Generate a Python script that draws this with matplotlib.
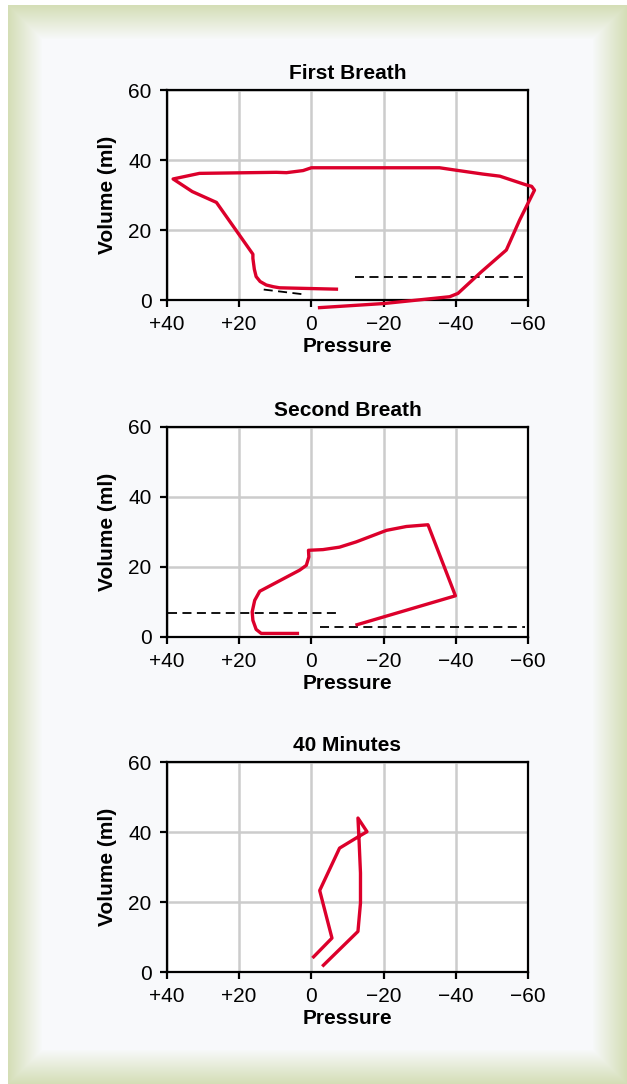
import numpy as np
import matplotlib.pyplot as plt

plt.rcParams['font.family'] = ['Liberation Sans', 'DejaVu Sans']

# tick values / labels
x_ticks = [40, 20, 0, -20, -40, -60]
x_labels = ['+40', '+20', '0', '\u221220', '\u221240', '\u221260']
y_ticks = [0, 20, 40, 60]
titles = ['First Breath', 'Second Breath', '40 Minutes']

# First breath loop (pressure, volume)
first_p = [-1.8, -20.0, -38.3, -40.6, -47.0, -54.0, -57.7, -61.8, -61.0, -59.5, -52.2,
           -47.5, -40.1, -35.5, -19.8, 0.0, 2.3, 6.9, 9.7, 31.0, 38.3, 33.0, 26.3,
           16.2, 16.2, 15.8, 15.3, 14.2, 12.5, 10.5, 8.8, -7.4]
first_v = [-2.2, -1.0, 0.95, 1.9, 8.0, 14.3, 22.9, 31.4, 32.5, 32.9, 35.4,
           36.0, 37.1, 37.8, 37.8, 37.8, 37.0, 36.4, 36.5, 36.2, 34.6, 31.0, 27.9,
           13.1, 11.9, 8.8, 6.7, 5.3, 4.3, 3.8, 3.5, 3.1]
first_dash1_p = [13.2, 1.9]
first_dash1_v = [3.0, 1.6]
first_dash2_p = [-12.0, -59.5]
first_dash2_v = [6.5, 6.5]

# Second breath loop
second_p = [3.4, 13.9, 15.3, 16.2, 16.4, 15.7, 14.3, 3.3, 1.4, 0.7, 0.8, -3.2,
            -7.8, -12.4, -20.8, -26.3, -32.3, -39.9, -12.2]
second_v = [0.95, 0.95, 2.1, 4.7, 7.1, 10.4, 13.0, 19.0, 20.4, 22.8, 24.7, 24.9,
            25.6, 27.1, 30.4, 31.5, 32.0, 11.7, 3.3]
second_dash1_p = [39.7, -7.8]
second_dash1_v = [6.7, 6.7]
second_dash2_p = [-2.5, -59.1]
second_dash2_v = [2.85, 2.85]

# 40 minutes loop
late_p = [-0.3, -5.7, -2.3, -7.8, -12.9, -15.4, -12.9, -13.2, -13.6, -13.6, -12.9, -3.0]
late_v = [4.0, 9.7, 23.3, 35.4, 38.6, 40.1, 44.0, 37.8, 28.3, 19.7, 11.6, 1.6]

red = '#dc002b'
W, H = 627, 1084
fig = plt.figure(figsize=(W / 100, H / 100), dpi=100)

# framed background with soft green border
green = np.array([212, 222, 182]) / 255.0
white = np.array([248, 249, 251]) / 255.0
xx, yy = np.meshgrid(np.arange(W), np.arange(H))
d = np.minimum.reduce([xx - 8, yy - 5, W - 1 - xx, H - 1 - yy]).astype(float)
t = np.clip(d / 34.0, 0, 1)[..., None]
img = green * (1 - t) + white * t
outside = (xx < 8) | (yy < 5)
img[outside] = [1, 1, 1]
bg = fig.add_axes([0, 0, 1, 1])
bg.imshow(img, aspect='auto', interpolation='bilinear')
bg.axis('off')

bottoms = [0.7232, 0.4126, 0.1033]
left, width, height = 0.2663, 0.5758, 0.1937

series = [
    (first_p, first_v, [(first_dash1_p, first_dash1_v), (first_dash2_p, first_dash2_v)]),
    (second_p, second_v, [(second_dash1_p, second_dash1_v), (second_dash2_p, second_dash2_v)]),
    (late_p, late_v, []),
]

for i, (p, v, dashes) in enumerate(series):
    ax = fig.add_axes([left, bottoms[i], width, height])
    ax.set_facecolor('white')
    ax.set_xlim(40, -60)
    ax.set_ylim(0, 60)
    ax.set_xticks(x_ticks)
    ax.set_xticklabels(x_labels)
    ax.set_yticks(y_ticks)
    ax.grid(True, color='#cccccc', linewidth=1.8)
    ax.set_axisbelow(True)
    for s in ax.spines.values():
        s.set_linewidth(1.6)
        s.set_color('black')
    ax.tick_params(axis='both', direction='out', length=5, width=1.6,
                   labelsize=15, pad=6, colors='black')
    for dp, dv in dashes:
        ax.plot(dp, dv, color='black', linewidth=1.3, dashes=(5, 3), clip_on=False)
    ax.plot(p, v, color=red, linewidth=2.4, solid_joinstyle='round',
            solid_capstyle='butt', clip_on=False, zorder=5)
    ax.set_title(titles[i], fontsize=15, fontweight='bold', pad=8)
    ax.set_xlabel('Pressure', fontsize=15, fontweight='bold', labelpad=2)
    ax.set_ylabel('Volume (ml)', fontsize=15, fontweight='bold', labelpad=8)

fig.savefig('out.png', dpi=100)
